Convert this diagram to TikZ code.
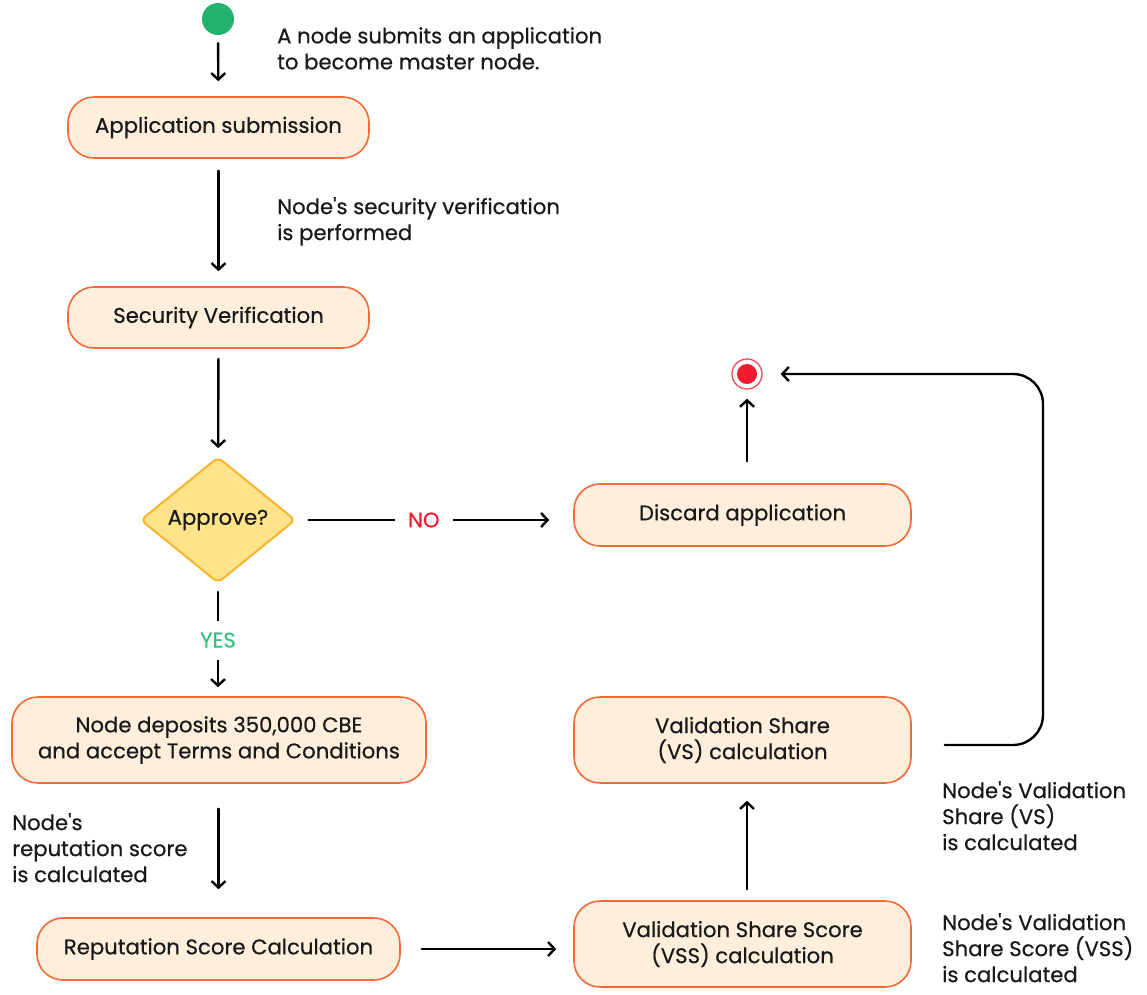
\documentclass[tikz,border=0pt]{standalone}
\usepackage{fontspec}
\setmainfont{Poppins}[FakeBold=0.5, Ligatures=TeXOff]
\usetikzlibrary{arrows.meta,shapes.geometric,calc}
\definecolor{boxfill}{HTML}{FEEFDD}
\definecolor{boxline}{HTML}{F26A36}
\definecolor{decfill}{HTML}{FEE38A}
\definecolor{decline}{HTML}{F7B52C}
\definecolor{startgreen}{HTML}{23B26D}
\definecolor{yesgreen}{HTML}{3DBE83}
\definecolor{nored}{HTML}{EE1C2E}
\begin{document}
\begin{tikzpicture}[x=1pt,y=-1pt,
  every node/.style={font=\fontsize{21.2}{26}\selectfont, text=black!90},
  stepbox/.style={draw=boxline, fill=boxfill, line width=1.6pt, rounded corners=26pt,
    align=center, inner sep=0pt},
  decision/.style={diamond, draw=decline, fill=decfill, line width=2pt, rounded corners=6pt,
    minimum width=155pt, minimum height=126pt, inner sep=0pt},
  note/.style={align=left, anchor=north west, inner sep=0pt},
  flow/.style={line width=2.4pt, line cap=round, -{Straight Barb[length=6.5pt,width=14pt,line width=2.4pt]}},
]
\useasboundingbox (0,0) rectangle (1147,994);

% start and end markers
\node[circle, fill=startgreen, minimum size=32pt, inner sep=0pt] (start) at (218,19) {};
\node[circle, draw=nored!80, line width=1.3pt, fill=white, minimum size=30pt, inner sep=0pt] (end) at (747,374) {};
\fill[nored] (end) circle (10pt);

% process steps
\node[stepbox, minimum width=301pt, minimum height=61pt] (submit) at (218.5,127.5) {Application submission};
\node[stepbox, minimum width=301pt, minimum height=61pt] (secure) at (218.5,317.5) {Security Verification};
\node[decision] (approve) at (218,520) {Approve?};
\node[stepbox, minimum width=337pt, minimum height=62pt] (discard) at (742.5,515) {Discard application};
\node[stepbox, minimum width=414pt, minimum height=86pt] (deposit) at (219,740) {Node deposits 350,000 CBE\\and accept Terms and Conditions};
\node[stepbox, minimum width=363pt, minimum height=62pt] (reput) at (218.5,949) {Reputation Score Calculation};
\node[stepbox, minimum width=337pt, minimum height=86pt] (vss) at (742.5,944) {Validation Share Score\\(VSS) calculation};
\node[stepbox, minimum width=337pt, minimum height=86pt] (vs) at (742.5,740) {Validation Share\\(VS) calculation};

% side notes
\node[note] (n1) at (277,27) {A node submits an application\\to become master node.};
\node[note] (n2) at (277,197) {Node's security verification\\is performed};
\node[note] (n3) at (12,813) {Node's\\reputation score\\is calculated};
\node[note] (n4) at (942,781) {Node's Validation\\Share (VS)\\is calculated};
\node[note] (n5) at (942,913) {Node's Validation\\Share Score (VSS)\\is calculated};

% connectors
\coordinate (rt) at (1043,560);
\draw[flow, shorten <=8pt, shorten >=15pt] (start) -- (submit);
\draw[flow, shorten <=12pt, shorten >=15pt] (submit) -- (secure);
\draw[flow, shorten <=10pt, shorten >=8pt] (secure) -- (approve);
\draw[flow, shorten <=12pt, shorten >=24pt] (approve.east) -- node[pos=0.46, fill=white, text=nored, inner xsep=13pt, inner ysep=4pt] (no) {NO} (discard.west |- approve.east);
\draw[flow, shorten <=8pt, shorten >=9pt] (approve.south) -- node[fill=white, text=yesgreen, inner xsep=4pt, inner ysep=12pt] (yes) {YES} (deposit.north -| approve.south);
\draw[flow, shorten <=25pt, shorten >=28pt] (deposit.south -| reput) -- (reput.north);
\draw[flow, shorten <=21pt, shorten >=17pt] (reput.east) -- (vss.west |- reput.east);
\draw[flow, shorten <=11pt, shorten >=17pt] (vss.north -| end) -- (vs.south -| end);
\draw[flow, shorten <=22pt, shorten >=9pt] (discard.north -| end) -- (end.south);
\draw[flow, rounded corners=30pt] ([xshift=33pt,yshift=-5pt]vs.east) -- ([yshift=-5pt]vs.east -| rt) -- (end -| rt) -- ([xshift=18pt]end.east);
\end{tikzpicture}
\end{document}
